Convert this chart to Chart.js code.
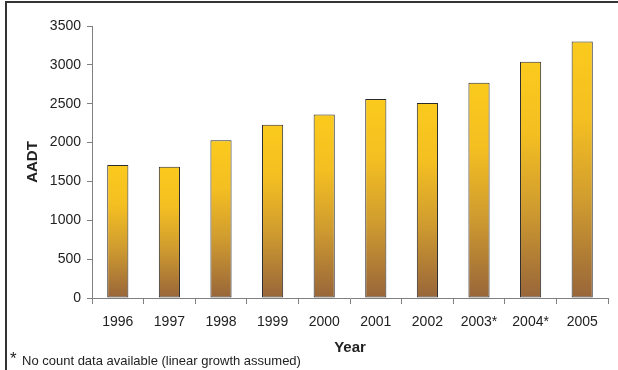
<!DOCTYPE html>
<html>
<head>
<meta charset="utf-8">
<script src="https://cdn.jsdelivr.net/npm/chart.js@4"></script>
<style>
  html, body { margin: 0; padding: 0; background: #fff; }
  #wrap { width: 618px; height: 370px; }
</style>
</head>
<body>
<div id="wrap"><canvas id="aadtChart" width="618" height="370"></canvas></div>
<script>
// Annual average daily traffic by year
const years = ['1996', '1997', '1998', '1999', '2000', '2001', '2002', '2003*', '2004*', '2005'];
const aadt = [1710, 1690, 2030, 2230, 2360, 2560, 2510, 2770, 3040, 3300];
const yTicks = [0, 500, 1000, 1500, 2000, 2500, 3000, 3500];
const footnote = 'No count data available (linear growth assumed)';

const FONT = "'Liberation Sans', Arial, sans-serif";

// gold-to-bronze fill, running from the top of each bar down to its base
function barGradient(context) {
    const chart = context.chart;
    const yScale = chart.scales.y;
    if (!chart.chartArea || !yScale || context.parsed === undefined) return '#F2BC24';
    const top = yScale.getPixelForValue(context.parsed.y);
    const base = yScale.getPixelForValue(0);
    const g = chart.ctx.createLinearGradient(0, top, 0, base);
    g.addColorStop(0, '#FBCA1D');
    g.addColorStop(0.3, '#F4BF21');
    g.addColorStop(0.62, '#D09C2F');
    g.addColorStop(1, '#98653A');
    return g;
}

// frame line on top/left and the footnote under the axis
const framePlugin = {
    id: 'frame',
    afterDraw(chart) {
        const ctx = chart.ctx;
        ctx.save();
        ctx.strokeStyle = '#333';
        ctx.lineWidth = 2;
        ctx.beginPath();
        ctx.moveTo(6, 370);
        ctx.lineTo(6, 2);
        ctx.lineTo(618, 2);
        ctx.stroke();

        ctx.fillStyle = '#222';
        ctx.textBaseline = 'alphabetic';
        ctx.font = '17px ' + FONT;
        ctx.fillText('*', 10, 364);
        ctx.font = '13px ' + FONT;
        ctx.fillText(footnote, 22, 365);
        ctx.restore();
    }
};

new Chart(document.getElementById('aadtChart'), {
    type: 'bar',
    data: {
        labels: years,
        datasets: [{
            label: 'AADT',
            data: aadt,
            backgroundColor: barGradient,
            borderColor: '#2b2b2b',
            borderWidth: 1,
            borderSkipped: false,
            barPercentage: 0.41,
            categoryPercentage: 1
        }]
    },
    options: {
        responsive: false,
        animation: false,
        layout: {
            padding: { left: 6, top: 26, right: 10, bottom: 0 }
        },
        plugins: {
            legend: { display: false },
            tooltip: { enabled: false }
        },
        scales: {
            x: {
                offset: true,
                grid: {
                    display: true,
                    offset: true,
                    drawOnChartArea: false,
                    drawTicks: true,
                    tickLength: 6,
                    color: '#808080'
                },
                border: { display: true, color: '#808080', width: 1 },
                ticks: {
                    color: '#222',
                    padding: 10,
                    maxRotation: 0,
                    autoSkip: false,
                    font: { family: FONT, size: 14 }
                },
                title: {
                    display: true,
                    text: 'Year',
                    color: '#222',
                    padding: { top: 0, bottom: 13 },
                    font: { family: FONT, size: 15, weight: 'bold' }
                },
                afterFit(scale) { scale.height = 72; }
            },
            y: {
                min: 0,
                max: 3500,
                afterBuildTicks(scale) {
                    scale.ticks = yTicks.map(v => ({ value: v }));
                },
                grid: {
                    display: true,
                    drawOnChartArea: false,
                    drawTicks: true,
                    tickLength: 5,
                    color: '#808080'
                },
                border: { display: true, color: '#808080', width: 1 },
                ticks: {
                    color: '#222',
                    padding: 6,
                    font: { family: FONT, size: 14 },
                    callback: value => String(value)
                },
                title: {
                    display: true,
                    text: 'AADT',
                    color: '#222',
                    padding: { top: 18, bottom: 0 },
                    font: { family: FONT, size: 15, weight: 'bold' }
                },
                afterFit(scale) { scale.width = 86; }
            }
        }
    },
    plugins: [framePlugin]
});
</script>
</body>
</html>
